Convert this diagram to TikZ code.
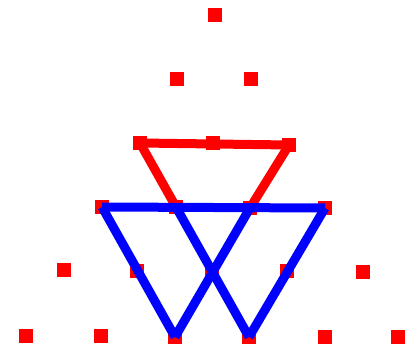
\documentclass[tikz,border=0pt]{standalone}
\begin{document}
\begin{tikzpicture}[
  x=1pt, y=-1pt,
  dot/.style={fill=red, minimum size=14pt, inner sep=0pt},
  redline/.style={red, line width=9pt},
  blueline/.style={blue, line width=9pt},
]
\useasboundingbox (0,0) rectangle (417,344);

% grid points, row by row
\node[dot] (p0a) at (215,15) {};
\node[dot] (p1a) at (177,79) {};
\node[dot] (p1b) at (251,79) {};
\node[dot] (p2a) at (140,143) {};
\node[dot] (p2b) at (213,143) {};
\node[dot] (p2c) at (289,145) {};
\node[dot] (p3a) at (102,207) {};
\node[dot] (p3b) at (176,207) {};
\node[dot] (p3c) at (250,208) {};
\node[dot] (p3d) at (325,208) {};
\node[dot] (p4a) at (64,270) {};
\node[dot] (p4b) at (137,271) {};
\node[dot] (p4c) at (212,271) {};
\node[dot] (p4d) at (287,271) {};
\node[dot] (p4e) at (363,272) {};
\node[dot] (p5a) at (26,336) {};
\node[dot] (p5b) at (101,336) {};
\node[dot] (p5c) at (175,337) {};
\node[dot] (p5d) at (249,337) {};
\node[dot] (p5e) at (325,337) {};
\node[dot] (p5f) at (398,337) {};

% red triangle
\draw[redline] (p2a.center) -- (p2c.center);
\draw[redline] (p2a.center) -- (p3b.center);
\draw[redline] (p2c.center) -- (p3c.center);

% blue triangles
\draw[blueline] (p3a.center) -- (p3d.center);
\draw[blueline] (p3a.center) -- (p5c.center);
\draw[blueline] (p5c.center) -- (p3c.center);
\draw[blueline] (p3b.center) -- (p5d.center);
\draw[blueline] (p5d.center) -- (p3d.center);
\end{tikzpicture}
\end{document}
